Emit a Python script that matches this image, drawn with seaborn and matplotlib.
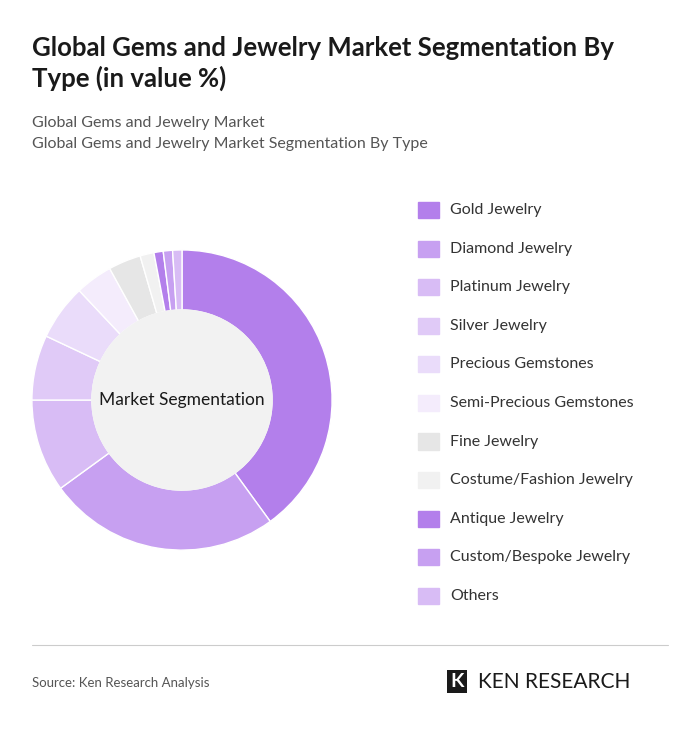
import matplotlib.pyplot as plt
import seaborn as sns
from matplotlib.patches import Circle, Rectangle

sns.set_theme(style="white")
plt.rcParams['font.family'] = ['Lato', 'DejaVu Sans']

# Data
segments = ["Gold Jewelry", "Diamond Jewelry", "Platinum Jewelry", "Silver Jewelry",
            "Precious Gemstones", "Semi-Precious Gemstones", "Fine Jewelry",
            "Costume/Fashion Jewelry", "Antique Jewelry", "Custom/Bespoke Jewelry", "Others"]
shares = [40, 25, 10, 7, 6, 4, 3.5, 1.5, 1, 1, 1]
colors = ["#b37feb", "#c7a0f1", "#d8bcf5", "#e0caf7", "#eadcfa", "#f4ecfc",
          "#e6e6e6", "#f1f1f1", "#b37feb", "#c7a0f1", "#d8bcf5"]

fig = plt.figure(figsize=(7, 7.3), dpi=100)
fig.patch.set_facecolor("white")

fig.text(0.046, 0.95, "Global Gems and Jewelry Market Segmentation By\nType (in value %)",
         fontsize=18.5, fontweight="bold", color="#1a1a1a", va="top", linespacing=1.25)
fig.text(0.046, 0.832, "Global Gems and Jewelry Market", fontsize=11.5, color="#555555", va="center")
fig.text(0.046, 0.803, "Global Gems and Jewelry Market Segmentation By Type", fontsize=11.5,
         color="#555555", va="center")

ax = fig.add_axes([-0.008, 0.195, 0.536, 0.514])
ax.pie(shares, colors=colors, startangle=90, counterclock=False,
       wedgeprops=dict(width=0.4, edgecolor="white", linewidth=1))
ax.add_patch(Circle((0, 0), 0.6, color="#f2f2f2", zorder=3))
ax.text(0, 0, "Market Segmentation", ha="center", va="center", fontsize=12.5,
        color="#1a1a1a", zorder=4)
ax.set_aspect("equal")

# Legend
for i, (name, c) in enumerate(zip(segments, colors)):
    y = 0.712 - i * 0.0528
    fig.patches.append(Rectangle((0.597, y - 0.011), 0.03, 0.022, color=c,
                                 transform=fig.transFigure, figure=fig))
    fig.text(0.643, y, name, fontsize=11.5, color="#333333", va="center")

fig.add_artist(plt.Line2D([0.046, 0.954], [0.117, 0.117], color="#cccccc", linewidth=0.8))
fig.text(0.046, 0.064, "Source: Ken Research Analysis", fontsize=9.5, color="#555555", va="center")
fig.text(0.653, 0.066, "K", fontsize=14, fontweight="bold", color="white", va="center",
         ha="center", bbox=dict(boxstyle="square,pad=0.15", fc="#1a1a1a", ec="none"))
fig.text(0.683, 0.066, "KEN RESEARCH", fontsize=15, color="#1a1a1a", va="center")

fig.savefig("out.png", dpi=100, facecolor="white")
